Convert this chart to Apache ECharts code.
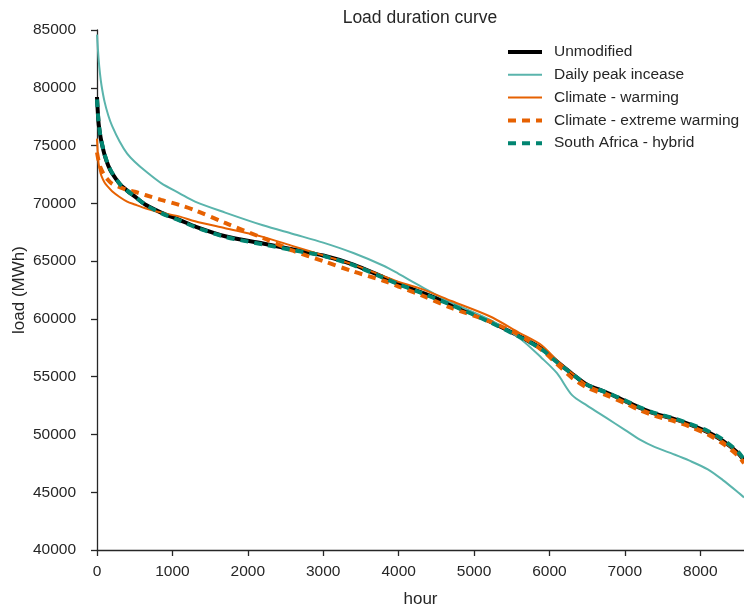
<!DOCTYPE html>
<html>
<head>
<meta charset="utf-8">
<script src="https://cdn.jsdelivr.net/npm/echarts@6/dist/echarts.min.js"></script>
<style>html,body{margin:0;padding:0;background:#fff}#c{width:744px;height:611px}</style>
</head>
<body>
<div id="c"></div>
<script>
var hours = [0, 20, 40, 60, 100, 150, 200, 300, 400, 500, 650, 850, 1100, 1300, 1700, 2200, 2600, 3000, 3400, 3800, 4000, 4300, 4700, 5200, 5600, 5900, 6100, 6300, 6500, 6750, 7000, 7200, 7400, 7650, 7850, 8100, 8300, 8500, 8580];
var unmodified = [79200, 77000, 76000, 75300, 74200, 73250, 72600, 71700, 71100, 70600, 69850, 69200, 68550, 68000, 67150, 66520, 66000, 65480, 64700, 63600, 63050, 62300, 61250, 59800, 58500, 57400, 56300, 55250, 54300, 53650, 52900, 52300, 51800, 51350, 50900, 50200, 49450, 48400, 47750];
var dailyPeak = [84600, 82600, 81200, 80200, 78800, 77600, 76700, 75350, 74300, 73600, 72750, 71750, 70850, 70150, 69200, 68100, 67350, 66600, 65700, 64600, 63900, 62800, 61400, 59950, 58350, 56600, 55300, 53400, 52500, 51450, 50400, 49550, 48900, 48280, 47750, 46980, 46050, 45000, 44550];
var warming = [75600, 73500, 72800, 72350, 71800, 71400, 71050, 70550, 70150, 69900, 69550, 69200, 68850, 68450, 67850, 67100, 66300, 65500, 64700, 63700, 63200, 62600, 61550, 60250, 58800, 57700, 56400, 55300, 54300, 53600, 52850, 52250, 51750, 51300, 50850, 50150, 49400, 48350, 47650];
var extremeWarming = [74400, 73700, 73200, 72900, 72400, 72000, 71700, 71400, 71150, 71000, 70700, 70300, 69850, 69400, 68300, 67000, 65900, 65000, 64100, 63300, 62800, 62050, 60950, 59800, 58600, 57300, 56100, 54900, 54050, 53400, 52700, 52100, 51600, 51150, 50700, 50000, 49200, 48150, 47500];
var southAfrica = [79000, 77100, 76050, 75350, 74250, 73300, 72650, 71700, 71100, 70600, 69850, 69150, 68500, 67950, 67100, 66450, 65950, 65450, 64650, 63550, 63000, 62250, 61200, 59750, 58450, 57350, 56250, 55250, 54300, 53650, 52950, 52350, 51850, 51400, 50950, 50300, 49550, 48500, 47850];
var xTicks = [0, 1000, 2000, 3000, 4000, 5000, 6000, 7000, 8000];
var yTicks = [40000, 45000, 50000, 55000, 60000, 65000, 70000, 75000, 80000, 85000];
var names = ['Unmodified', 'Daily peak incease', 'Climate - warming', 'Climate - extreme warming', 'South Africa - hybrid'];

function pairs(v) { return hours.map(function (h, i) { return [h, v[i]]; }); }
var axCol = '#262626';
var ff = 'Liberation Sans, Arial, sans-serif';
var chart = echarts.init(document.getElementById('c'), null, {renderer: 'canvas'});
function mk(name, data, color, width, dash) {
  return {
    name: name, type: 'line', data: pairs(data), showSymbol: false, symbol: 'none',
    smooth: 0.3, clip: true,
    lineStyle: {color: color, width: width, type: dash ? [8, 6] : 'solid', cap: 'butt'},
    itemStyle: {color: color},
    emphasis: {disabled: true}
  };
}
function plain(v) { return String(v); }
chart.setOption({
  animation: false,
  backgroundColor: '#fff',
  textStyle: {fontFamily: ff},
  title: {text: 'Load duration curve', left: 415, top: 4, textAlign: 'center',
    textStyle: {fontSize: 17.5, fontWeight: 'normal', color: axCol, fontFamily: ff}},
  legend: {
    orient: 'vertical', left: 506, top: 44, padding: 0, itemWidth: 34, itemHeight: 16, itemGap: 6.8, itemTextGap: 12,
    data: names, selectedMode: false,
    itemStyle: {opacity: 0},
    lineStyle: {width: 'inherit'},
    textStyle: {fontSize: 15.5, color: axCol, fontFamily: ff, padding: [0, 0, 0, 7]}
  },
  grid: {left: 97, top: 30, right: 0, bottom: 61, containLabel: false, outerBoundsMode: 'none'},
  xAxis: {
    type: 'value', min: 0, max: 8580, interval: 1000,
    name: 'hour', nameLocation: 'middle', nameGap: 41, nameMoveOverlap: false,
    nameTextStyle: {fontSize: 17, color: axCol, fontFamily: ff},
    axisLine: {show: true, lineStyle: {color: axCol, width: 1.3}},
    axisTick: {show: true, length: 6, inside: false, lineStyle: {color: axCol, width: 1.3}, customValues: xTicks},
    axisLabel: {fontSize: 15.5, color: axCol, margin: 14, customValues: xTicks, formatter: plain},
    splitLine: {show: false}
  },
  yAxis: {
    type: 'value', min: 40000, max: 85000, interval: 5000,
    name: 'load (MWh)', nameLocation: 'middle', nameGap: 69, nameRotate: 90, nameMoveOverlap: false,
    nameTextStyle: {fontSize: 17, color: axCol, fontFamily: ff},
    axisLine: {show: true, lineStyle: {color: axCol, width: 1.3}},
    axisTick: {show: true, length: 6, lineStyle: {color: axCol, width: 1.3}, customValues: yTicks},
    axisLabel: {fontSize: 15.5, color: axCol, margin: 21, customValues: yTicks, formatter: plain},
    splitLine: {show: false}
  },
  series: [
    mk(names[0], unmodified, '#000000', 4, false),
    mk(names[1], dailyPeak, '#5ab4ac', 2, false),
    mk(names[2], warming, '#e66101', 2, false),
    mk(names[3], extremeWarming, '#e66101', 4, true),
    mk(names[4], southAfrica, '#018571', 4, true)
  ]
});
</script>
</body>
</html>
